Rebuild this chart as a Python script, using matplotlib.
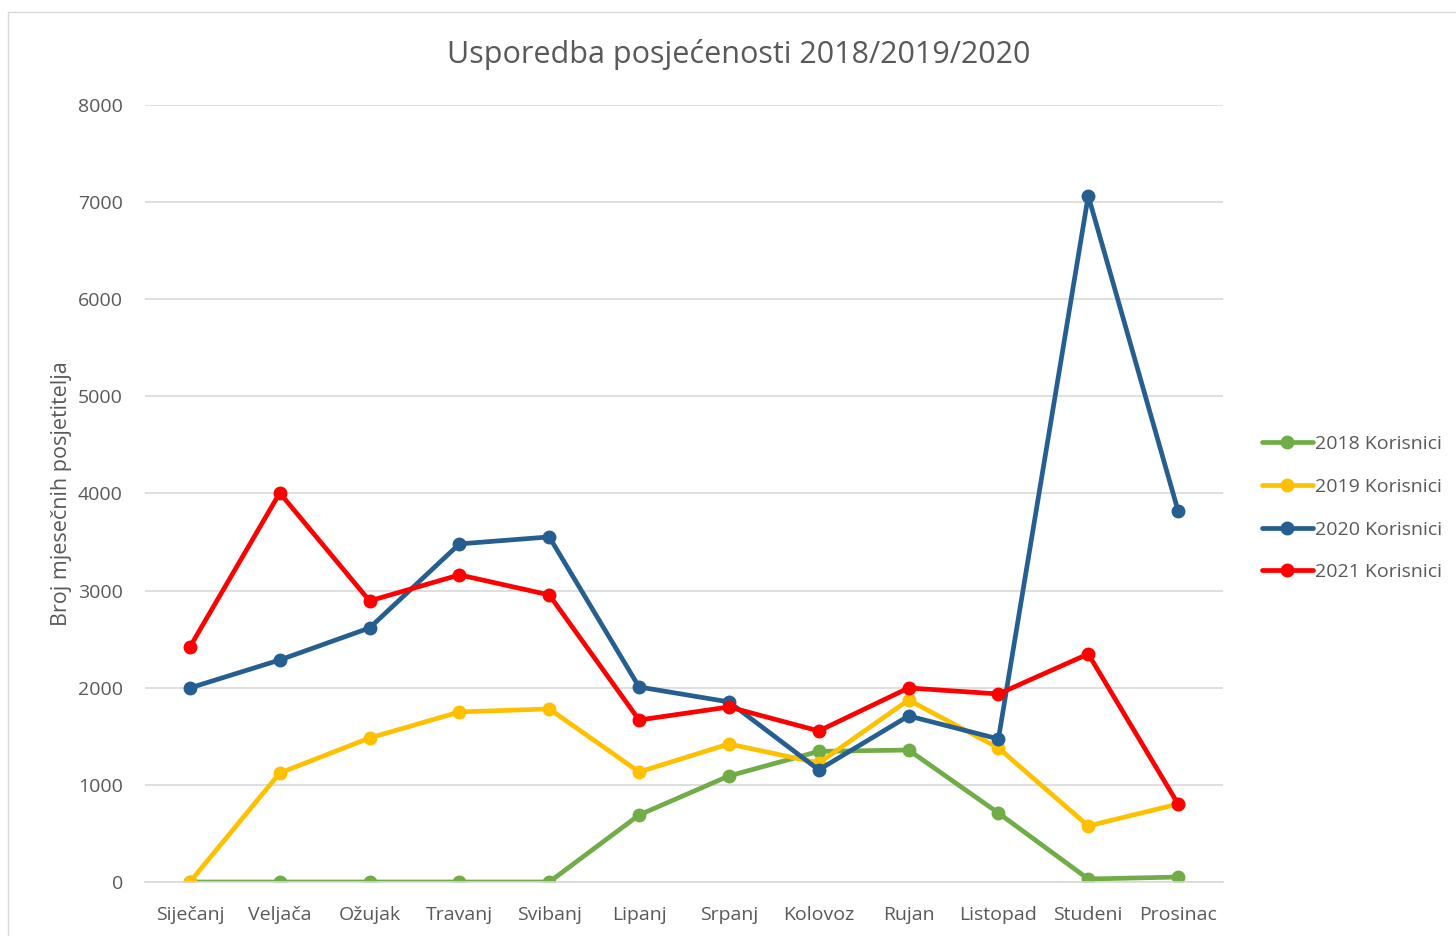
import numpy as np
import matplotlib.pyplot as plt
from matplotlib.patches import Rectangle

plt.rcParams['font.family'] = ['Open Sans', 'DejaVu Sans']

months = ['Siječanj', 'Veljača', 'Ožujak', 'Travanj', 'Svibanj', 'Lipanj',
          'Srpanj', 'Kolovoz', 'Rujan', 'Listopad', 'Studeni', 'Prosinac']

users_2018 = [0, 0, 0, 0, 0, 690, 1092, 1345, 1359, 710, 31, 51]
users_2019 = [0, 1122, 1483, 1751, 1782, 1133, 1421, 1225, 1874, 1380, 577, 803]
users_2020 = [1998, 2286, 2616, 3481, 3553, 2008, 1854, 1155, 1710, 1473, 7065, 3821]
users_2021 = [2420, 4006, 2894, 3162, 2956, 1668, 1802, 1555, 1998, 1936, 2348, 803]

series = [
    ('2018 Korisnici', users_2018, '#70AD47'),
    ('2019 Korisnici', users_2019, '#FFC000'),
    ('2020 Korisnici', users_2020, '#255E91'),
    ('2021 Korisnici', users_2021, '#FF0000'),
]

text_col = '#595959'

fig = plt.figure(figsize=(14.56, 9.36), dpi=100)
# light frame around the chart
fig.patches.append(Rectangle((8 / 1456, -0.01), 1.0, 1.0 - 12 / 936 + 0.01,
                             transform=fig.transFigure, fill=False,
                             edgecolor='#D9D9D9', linewidth=1))

ax = fig.add_axes([145 / 1456, 1 - 882 / 936, (1223 - 145) / 1456, (882 - 105) / 936])

x = np.arange(len(months))
for label, vals, col in series:
    ax.plot(x, vals, color=col, linewidth=3.4, marker='o', markersize=9,
            label=label, solid_capstyle='round')

ax.set_xlim(-0.5, len(months) - 0.5)
ax.set_ylim(0, 8000)
ax.set_yticks(np.arange(0, 8001, 1000))
ax.set_xticks(x)
ax.set_xticklabels(months)
ax.grid(axis='y', color='#D9D9D9', linewidth=1.2)
ax.set_axisbelow(True)
for s in ['top', 'right', 'left']:
    ax.spines[s].set_visible(False)
ax.spines['bottom'].set_color('#D9D9D9')
ax.spines['bottom'].set_linewidth(1.2)
ax.tick_params(axis='both', length=0, labelsize=14, colors=text_col)
ax.tick_params(axis='x', pad=17)
ax.tick_params(axis='y', pad=16)

ax.set_ylabel('Broj mjesečnih posjetitelja', fontsize=15.5, color=text_col, labelpad=4)
fig.text(739 / 1456, 1 - 55 / 936, 'Usporedba posjećenosti 2018/2019/2020',
         ha='center', va='center', fontsize=22, color=text_col)

ax.legend(loc='center left', bbox_to_anchor=(1.029, 0.481), frameon=False,
          fontsize=14, labelcolor=text_col, handlelength=2.6, handletextpad=0.1,
          labelspacing=1.27, borderaxespad=0)

fig.savefig('out.png', dpi=100)
